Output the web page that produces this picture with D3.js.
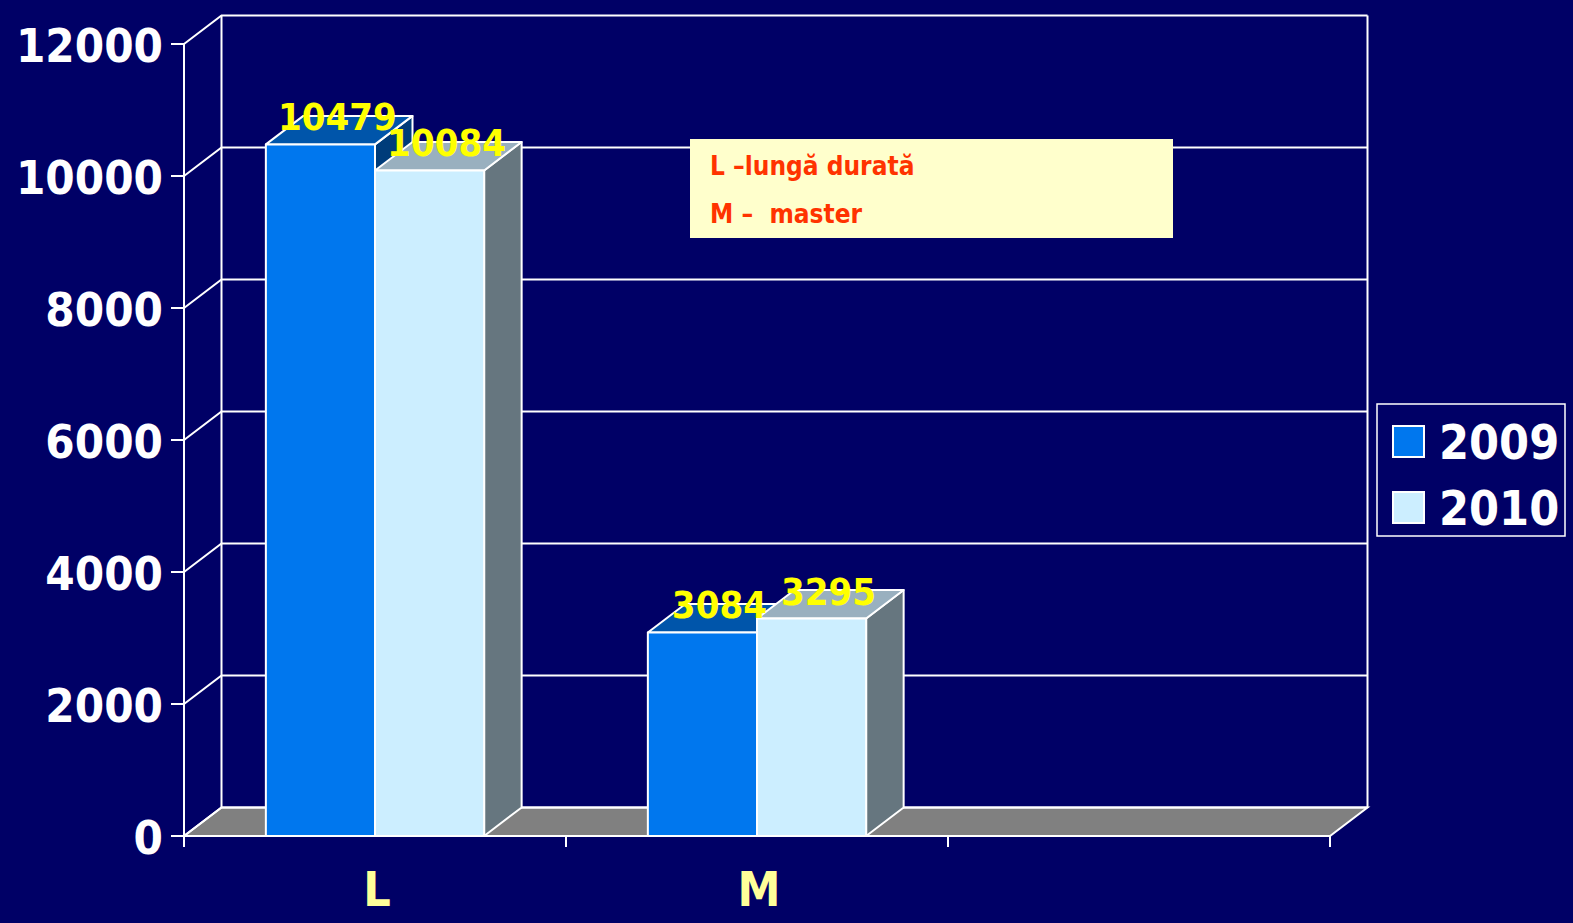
<!DOCTYPE html>
<html>
<head>
<meta charset="utf-8">
<script src="https://cdn.jsdelivr.net/npm/d3@7"></script>
<style>
  html, body { margin: 0; padding: 0; background: #000066; }
  svg { display: block; }
  text { font-family: "DejaVu Sans Condensed", "DejaVu Sans", Tahoma, sans-serif; font-weight: bold; font-stretch: condensed; }
</style>
</head>
<body>
<div id="chart"></div>
<script>
var categories = ["L", "M", ""];
var series = ["2009", "2010"];
var values2009 = [10479, 3084];
var values2010 = [10084, 3295];
var yTicks = [0, 2000, 4000, 6000, 8000, 10000, 12000];
var notes = ["L \u2013lung\u0103 durat\u0103", "M \u2013  master"];

var width = 1573,
    height = 923,
    dx = 37.5, dy = -28.5;   // depth of the 3d box

var front = ["#0077ee", "#cceeff"],
    tops  = ["#0055aa", "#99b0bf"],
    sides = ["#003c7a", "#66767f"];

var svg = d3.select("#chart").append("svg")
  .attr("width", width)
  .attr("height", height);

svg.append("rect").attr("width", width).attr("height", height).attr("fill", "#000066");

var y = d3.scaleLinear().domain([0, 12000]).range([836, 44]);
var x = d3.scaleBand().domain(categories).range([184, 1330]);
var x1 = d3.scaleBand().domain(series).range([0, x.bandwidth()]).paddingOuter(0.75);

var x0 = x.range()[0], xEnd = x.range()[1];
var line = d3.line();

// floor
svg.append("path")
  .attr("d", line([[x0, y(0)], [xEnd, y(0)], [xEnd + dx, y(0) + dy], [x0 + dx, y(0) + dy]]) + "Z")
  .attr("fill", "#808080")
  .attr("stroke", "#fff").attr("stroke-width", 2);

// back wall grid
var grid = svg.append("g").attr("stroke", "#fff").attr("stroke-width", 2).attr("fill", "none");
yTicks.forEach(function(t) {
  grid.append("path").attr("d", line([[x0, y(t)], [x0 + dx, y(t) + dy], [xEnd + dx, y(t) + dy]]));
});
grid.append("path").attr("d", line([[x0 + dx, y(0) + dy], [x0 + dx, y(12000) + dy]]));
grid.append("path").attr("d", line([[xEnd + dx, y(0) + dy], [xEnd + dx, y(12000) + dy]]));

// y axis
var yAxis = svg.append("g").attr("stroke", "#fff").attr("stroke-width", 2);
yAxis.append("path").attr("d", line([[x0, y(0) + 11], [x0, y(12000)]]));
yTicks.forEach(function(t) {
  yAxis.append("path").attr("d", line([[x0 - 13, y(t)], [x0, y(t)]]));
});
svg.append("g").selectAll("text").data(yTicks).join("text")
  .attr("x", 163).attr("y", function(d) { return y(d) + 18; })
  .attr("text-anchor", "end")
  .attr("fill", "#fff")
  .attr("font-size", 47)
  .text(function(d) { return d; });

// x axis
var xAxis = svg.append("g").attr("stroke", "#fff").attr("stroke-width", 2);
xAxis.append("path").attr("d", line([[x0, y(0)], [xEnd, y(0)]]));
categories.forEach(function(c) {
  xAxis.append("path").attr("d", line([[x(c), y(0)], [x(c), y(0) + 11]]));
});
xAxis.append("path").attr("d", line([[xEnd, y(0)], [xEnd, y(0) + 11]]));
svg.append("g").selectAll("text").data(categories.filter(function(c) { return c; })).join("text")
  .attr("x", function(d) { return x(d) + x.bandwidth() / 2 + 2; })
  .attr("y", 906)
  .attr("text-anchor", "middle")
  .attr("fill", "#ffff99")
  .attr("font-size", 48)
  .text(function(d) { return d; });

// bars
var seriesValues = [values2009, values2010];
var bars = svg.append("g").attr("stroke", "#fff").attr("stroke-width", 2).attr("stroke-linejoin", "round");
categories.slice(0, 2).forEach(function(c, ci) {
  series.forEach(function(s, si) {
    var v = seriesValues[si][ci];
    var bx = x(c) + x1(s), bw = x1.bandwidth(), by = y(v), b0 = y(0);
    bars.append("path")
      .attr("d", line([[bx + bw, b0], [bx + bw + dx, b0 + dy], [bx + bw + dx, by + dy], [bx + bw, by]]) + "Z")
      .attr("fill", sides[si]);
    bars.append("path")
      .attr("d", line([[bx, by], [bx + dx, by + dy], [bx + bw + dx, by + dy], [bx + bw, by]]) + "Z")
      .attr("fill", tops[si]);
    bars.append("rect")
      .attr("x", bx).attr("y", by).attr("width", bw).attr("height", b0 - by)
      .attr("fill", front[si]);
  });
});

// value labels
categories.slice(0, 2).forEach(function(c, ci) {
  series.forEach(function(s, si) {
    var v = seriesValues[si][ci];
    svg.append("text")
      .attr("x", x(c) + x1(s) + x1.bandwidth() / 2 + 17)
      .attr("y", y(v) - 14)
      .attr("text-anchor", "middle")
      .attr("fill", "#ffff00")
      .attr("font-size", 38)
      .text(v);
  });
});

// note box
svg.append("rect")
  .attr("x", 690).attr("y", 139).attr("width", 483).attr("height", 99)
  .attr("fill", "#ffffcc");
svg.append("g").selectAll("text").data(notes).join("text")
  .attr("x", 710)
  .attr("y", function(d, i) { return 175 + i * 48; })
  .attr("fill", "#ff3300")
  .attr("font-size", 26)
  .attr("xml:space", "preserve")
  .style("white-space", "pre")
  .text(function(d) { return d; });

// legend
var legend = svg.append("g");
legend.append("rect")
  .attr("x", 1377).attr("y", 404).attr("width", 188).attr("height", 132)
  .attr("fill", "none").attr("stroke", "#fff").attr("stroke-width", 1.5);
series.forEach(function(s, i) {
  legend.append("rect")
    .attr("x", 1393).attr("y", 426 + i * 66).attr("width", 31).attr("height", 31)
    .attr("fill", front[i]).attr("stroke", "#fff").attr("stroke-width", 2);
  legend.append("text")
    .attr("x", 1439).attr("y", 459 + i * 66)
    .attr("fill", "#fff")
    .attr("font-size", 48)
    .text(s);
});
</script>
</body>
</html>
